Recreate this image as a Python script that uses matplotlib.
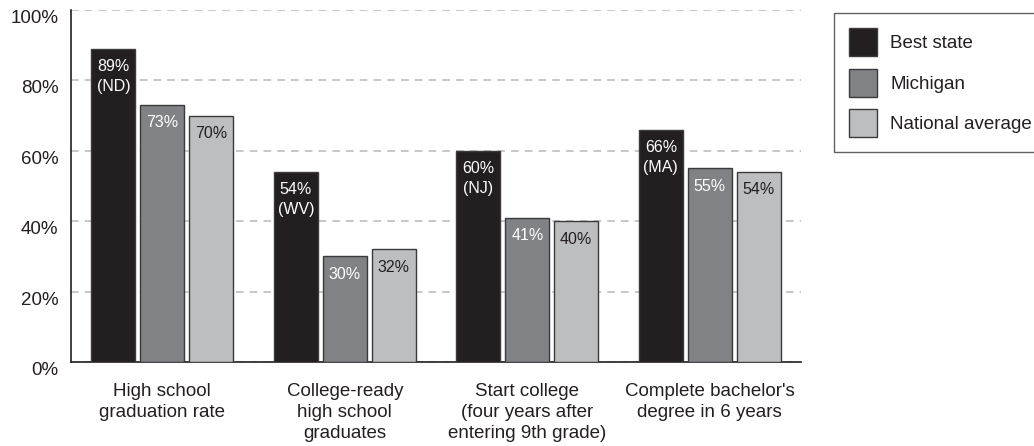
import numpy as np
import matplotlib.pyplot as plt

plt.rcParams['font.family'] = ['Liberation Sans', 'DejaVu Sans']

categories = ['High school\ngraduation rate',
              'College-ready\nhigh school\ngraduates',
              'Start college\n(four years after\nentering 9th grade)',
              "Complete bachelor's\ndegree in 6 years"]
best_state = [89, 54, 60, 66]
best_codes = ['ND', 'WV', 'NJ', 'MA']
michigan = [73, 30, 41, 55]
national = [70, 32, 40, 54]

series = [('Best state', best_state, '#231f20', 'white'),
          ('Michigan', michigan, '#808285', 'white'),
          ('National average', national, '#bcbec0', '#231f20')]

fig = plt.figure(figsize=(10.34, 4.46), dpi=100)
ax = fig.add_axes([71 / 1034, 1 - 362 / 446, 730 / 1034, 352 / 446])

x = np.arange(len(categories))
width = 0.24
step = 0.268

for i, (name, vals, color, tcolor) in enumerate(series):
    pos = x + (i - 1) * step
    ax.bar(pos, vals, width, color=color, edgecolor='#3a3a3a', linewidth=1,
           label=name, zorder=3)
    for j, v in enumerate(vals):
        txt = '%d%%' % v
        if i == 0:
            txt += '\n(%s)' % best_codes[j]
        ax.annotate(txt, (pos[j], v), xytext=(0, -7.5), textcoords='offset points',
                    ha='center', va='top', color=tcolor, fontsize=11.5,
                    linespacing=1.4, zorder=4)

ax.set_xlim(-0.5, 3.5)
ax.set_ylim(0, 100)
ax.set_yticks(range(0, 101, 20))
ax.set_yticklabels(['%d%%' % t for t in range(0, 101, 20)], fontsize=13.5)
ax.set_xticks(x)
ax.set_xticklabels(categories, fontsize=13.5, linespacing=1.3)
ax.tick_params(axis='both', length=0, colors='#231f20')
ax.tick_params(axis='y', pad=9)
ax.tick_params(axis='x', pad=15)
for t in ax.get_yticklabels():
    t.set_verticalalignment('top')

ax.yaxis.grid(True, linestyle=(0, (5, 4)), color='#b8b8b8', linewidth=1.1, zorder=0)
ax.set_axisbelow(True)
ax.spines['top'].set_visible(False)
ax.spines['right'].set_visible(False)
ax.spines['left'].set_color('#231f20')
ax.spines['bottom'].set_color('#231f20')
ax.spines['left'].set_linewidth(1.2)
ax.spines['bottom'].set_linewidth(1.2)

leg = fig.legend(loc='upper left', bbox_to_anchor=(834 / 1034, 1 - 13 / 446),
                 bbox_transform=fig.transFigure, borderaxespad=0,
                 fontsize=13.5, handlelength=1.49, handleheight=1.92,
                 labelspacing=0.66, handletextpad=0.69, borderpad=0.82,
                 fancybox=False, frameon=True)
leg.get_frame().set_edgecolor('#3a3a3a')
leg.get_frame().set_linewidth(1)
for t in leg.get_texts():
    t.set_color('#231f20')

fig.savefig('out.png', dpi=100)
